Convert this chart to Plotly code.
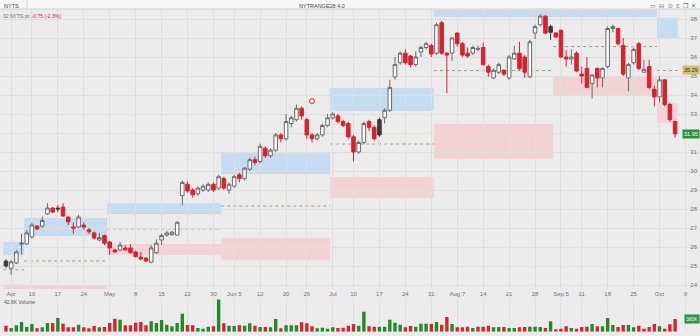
import pandas as pd
import plotly.graph_objects as go

# ---------------- data ----------------
holidays = ["2023-04-07", "2023-05-29", "2023-06-19", "2023-07-04", "2023-09-04"]
axis_days = [d.strftime("%Y-%m-%d") for d in pd.bdate_range("2023-03-31", "2023-10-13")
             if d.strftime("%Y-%m-%d") not in holidays]

opens = [25.26, 24.88, 25.16, 26.15, 26.16, 26.53, 27.1, 27.1, 27.74, 28.05,
         28.05, 28.1, 27.58, 27.05, 27.05, 27.15, 26.9, 26.74, 26.37, 26.6,
         26.26, 25.84, 25.84, 25.95, 25.95, 25.74, 25.47, 25.42, 25.2, 25.7,
         26.37, 26.63, 26.65, 26.63, 28.7, 29.3, 29.0, 28.8, 29.0, 29.0,
         29.3, 29.1, 29.6, 29.0, 29.2, 29.8, 29.6, 30.1, 30.6, 30.5,
         31.2, 30.8, 31.1, 31.9, 31.7, 32.5, 32.7, 33.3, 32.7, 31.9,
         31.7, 31.9, 32.4, 32.8, 32.9, 32.6, 32.5, 31.8, 31.0, 31.5,
         32.6, 32.3, 32.7, 32.8, 33.2, 34.95, 35.7, 36.2, 36.05, 35.6,
         36.26, 36.5, 36.6, 36.2, 37.8, 36.2, 36.2, 37.26, 36.7, 36.2,
         36.2, 36.4, 36.5, 35.5, 34.9, 35.2, 35.3, 34.9, 35.9, 36.2,
         36.0, 34.95, 37.26, 37.7, 38.15, 37.6, 37.26, 37.4, 36.0, 35.9,
         36.2, 35.1, 35.4, 34.6, 35.4, 34.9, 35.5, 37.5, 37.5, 36.6,
         34.9, 35.7, 36.7, 35.2, 35.5, 34.3, 33.9, 34.8, 33.5, 32.6]
highs = [25.35, 25.3, 25.84, 26.7, 26.9, 27.28, 27.15, 27.6, 28.3, 28.1,
         28.2, 28.3, 27.6, 27.3, 27.7, 27.3, 27.0, 26.8, 26.74, 26.65,
         26.3, 25.9, 26.26, 26.1, 26.15, 25.8, 25.74, 25.45, 26.1, 26.4,
         26.7, 26.85, 26.85, 27.35, 29.5, 29.45, 29.1, 29.2, 29.3, 29.4,
         29.4, 29.8, 29.7, 29.4, 29.8, 29.9, 30.2, 30.7, 30.75, 31.45,
         31.3, 31.2, 32.0, 32.0, 33.0, 32.9, 33.5, 33.4, 32.8, 32.0,
         32.0, 32.5, 33.0, 33.1, 33.0, 32.7, 32.6, 31.9, 31.6, 32.6,
         32.7, 32.4, 32.8, 33.3, 34.8, 36.0, 36.3, 36.4, 36.1, 36.3,
         36.6, 36.8, 36.7, 37.8, 37.9, 36.25, 37.05, 37.3, 36.8, 36.5,
         36.6, 36.6, 36.75, 35.6, 35.4, 35.7, 35.35, 36.1, 36.6, 36.8,
         36.1, 36.9, 37.7, 38.25, 38.2, 37.7, 37.3, 37.45, 36.37, 36.4,
         36.3, 35.5, 36.0, 35.1, 35.45, 35.45, 37.6, 37.7, 37.55, 37.0,
         35.7, 36.5, 36.8, 35.85, 35.85, 34.5, 35.0, 34.85, 33.6, 32.65]
lows = [24.9, 24.53, 25.1, 25.6, 26.1, 26.45, 26.9, 27.0, 27.7, 27.8,
        27.85, 27.6, 27.16, 26.7, 27.0, 26.9, 26.7, 26.4, 26.3, 26.1,
        25.58, 25.7, 25.8, 25.8, 25.65, 25.45, 25.3, 25.2, 25.15, 25.65,
        26.1, 26.55, 26.6, 26.6, 28.2, 28.85, 28.6, 28.7, 28.9, 28.9,
        28.9, 29.0, 29.0, 28.8, 29.1, 29.4, 29.5, 30.0, 30.3, 30.4,
        30.7, 30.7, 31.0, 31.5, 31.6, 32.3, 32.6, 32.7, 31.7, 31.5,
        31.6, 31.8, 32.3, 32.7, 32.5, 32.3, 31.7, 30.5, 30.9, 31.4,
        32.1, 31.6, 31.8, 32.5, 33.1, 34.8, 35.6, 35.6, 35.45, 35.5,
        36.0, 36.4, 36.0, 36.1, 36.1, 34.1, 35.8, 36.55, 36.0, 35.95,
        36.1, 36.3, 35.55, 34.95, 34.85, 35.1, 35.0, 34.8, 35.85, 35.3,
        34.9, 34.9, 36.95, 37.6, 37.2, 36.9, 37.0, 35.95, 35.5, 35.6,
        35.2, 34.6, 34.35, 33.8, 34.4, 34.4, 35.4, 37.3, 36.6, 35.0,
        34.2, 35.6, 35.3, 35.15, 34.3, 33.4, 33.6, 33.4, 32.6, 31.75]
closes = [25.0, 25.22, 25.74, 26.2, 26.74, 27.16, 26.95, 27.4, 28.05, 27.84,
          28.0, 27.63, 27.32, 27.0, 27.58, 27.05, 26.8, 26.47, 26.5, 26.2,
          25.95, 25.74, 26.1, 25.85, 25.7, 25.5, 25.37, 25.26, 25.95, 26.2,
          26.6, 26.74, 26.78, 27.3, 29.4, 28.95, 28.75, 29.1, 29.2, 29.3,
          29.0, 29.7, 29.1, 29.3, 29.7, 29.6, 30.15, 30.6, 30.45, 31.3,
          30.8, 31.1, 31.9, 31.7, 32.6, 32.8, 33.3, 32.9, 31.9, 31.7,
          31.9, 32.4, 32.8, 33.0, 32.6, 32.4, 31.8, 31.0, 31.5, 32.5,
          32.3, 31.7, 31.9, 33.2, 34.4, 35.6, 36.2, 35.7, 35.6, 36.0,
          36.5, 36.7, 36.16, 37.7, 36.2, 36.1, 37.0, 36.7, 36.1, 36.05,
          36.5, 36.45, 35.6, 35.2, 35.3, 35.6, 35.1, 36.0, 36.2, 35.4,
          35.2, 36.8, 37.6, 38.15, 37.26, 37.3, 37.05, 36.0, 35.9, 36.0,
          35.26, 35.0, 34.4, 35.05, 34.9, 35.4, 37.5, 37.6, 36.7, 35.1,
          35.6, 36.4, 35.4, 35.35, 34.4, 33.9, 34.8, 33.5, 32.7, 31.95]
volumes_k = [180, 110, 190, 290, 140, 230, 100, 130, 260, 260,
             410, 240, 130, 130, 210, 130, 100, 170, 130, 140,
             260, 390, 360, 190, 190, 270, 290, 190, 310, 260,
             350, 210, 160, 260, 540, 200, 190, 110, 90, 150,
             160, 960, 250, 180, 170, 190, 180, 250, 180, 140,
             140, 130, 380, 100, 190, 190, 190, 280, 250, 160,
             100, 120, 90, 130, 110, 120, 180, 230, 180, 600,
             160, 150, 150, 150, 360, 270, 210, 130, 170, 150,
             240, 240, 230, 290, 210, 440, 230, 130, 130, 150,
             110, 150, 150, 180, 130, 140, 140, 110, 110, 130,
             140, 150, 150, 140, 110, 310, 70, 90, 160, 110,
             90, 140, 150, 230, 160, 160, 410, 200, 140, 200,
             200, 130, 180, 90, 140, 230, 160, 90, 220, 380]

# monthly range boxes
box_start = ["2023-03-31", "2023-04-06", "2023-05-01", "2023-06-01", "2023-07-03", "2023-08-01", "2023-09-01", "2023-10-02"]
box_end = ["2023-04-05", "2023-04-28", "2023-05-31", "2023-06-30", "2023-07-31", "2023-08-31", "2023-09-29", "2023-10-05"]
upper_hi = [26.26, 27.53, 28.30, 30.95, 34.37, 39.94, 39.10, 38.05]
upper_lo = [25.58, 26.58, 27.74, 29.84, 33.16, 38.10, 38.10, 37.00]
lower_hi = [24.02, 23.95, 26.16, 26.47, 29.68, 32.47, 35.00, 33.58]
lower_lo = [23.34, 23.00, 25.58, 25.30, 28.58, 30.63, 34.00, 32.53]

event_dates = ["2023-06-27"]
event_prices = [33.68]

price_ticks = list(range(24, 39))
tick_dates = ["2023-04-03", "2023-04-10", "2023-04-17", "2023-04-24", "2023-05-01", "2023-05-08",
              "2023-05-15", "2023-05-22", "2023-05-30", "2023-06-05", "2023-06-12", "2023-06-20",
              "2023-06-26", "2023-07-03", "2023-07-10", "2023-07-17", "2023-07-24", "2023-07-31",
              "2023-08-07", "2023-08-14", "2023-08-21", "2023-08-28", "2023-09-05", "2023-09-11",
              "2023-09-18", "2023-09-25", "2023-10-02", "2023-10-09"]
tick_text = ["Apr", "10", "17", "24", "May", "8", "15", "22", "30", "Jun 5", "12", "20", "26",
             "Jul", "10", "17", "24", "31", "Aug 7", "14", "21", "28", "Sep 5", "11", "18", "25",
             "Oct", "9"]

header_symbol = "NYTS"
header_study = "NYTRANGE28 4.0"
volume_title = "42.6K Volume"

# ---------------- derived ----------------
n = len(closes)
dates = axis_days[:n]
pos = {d: i for i, d in enumerate(axis_days)}
xs = list(range(n))

dark = [closes[i] < opens[i] and (i == 0 or closes[i] >= closes[i - 1]) for i in range(n)]
main_idx = [i for i in range(n) if not dark[i]]
dark_idx = [i for i in range(n) if dark[i]]

RED = "#d6232d"
GREEN = "#1f8a2a"
vol_colors = []
for i in range(n):
    up = closes[i] >= closes[i - 1] if i > 0 else closes[i] >= opens[i]
    vol_colors.append(GREEN if up else RED)

BG = "#ebebeb"
GRID = "#dedede"
H = 336.0
W = 700.0

last_mid = (upper_lo[-1] + lower_hi[-1]) / 2
# price labels hidden behind the last-price flag (as the platform does)
price_ticktext = ["" if abs(t - closes[-1]) < 0.35 else str(t) for t in price_ticks]

fig = go.Figure()

fig.add_trace(go.Candlestick(
    x=[xs[i] for i in main_idx],
    open=[opens[i] for i in main_idx], high=[highs[i] for i in main_idx],
    low=[lows[i] for i in main_idx], close=[closes[i] for i in main_idx],
    text=[dates[i] for i in main_idx],
    increasing=dict(line=dict(color="#6a6a6a", width=1), fillcolor="#fbfbfb"),
    decreasing=dict(line=dict(color=RED, width=1), fillcolor=RED),
    xaxis="x", yaxis="y", showlegend=False))
fig.add_trace(go.Candlestick(
    x=[xs[i] for i in dark_idx],
    open=[opens[i] for i in dark_idx], high=[highs[i] for i in dark_idx],
    low=[lows[i] for i in dark_idx], close=[closes[i] for i in dark_idx],
    text=[dates[i] for i in dark_idx],
    increasing=dict(line=dict(color="#3a3a3a", width=1), fillcolor="#3a3a3a"),
    decreasing=dict(line=dict(color="#3a3a3a", width=1), fillcolor="#3a3a3a"),
    xaxis="x", yaxis="y", showlegend=False))

fig.add_trace(go.Scatter(
    x=[pos[d] for d in event_dates], y=event_prices, mode="markers",
    marker=dict(size=5, color="rgba(0,0,0,0)", line=dict(color="#d9603b", width=1.2)),
    xaxis="x", yaxis="y", showlegend=False))

fig.add_trace(go.Bar(x=xs, y=volumes_k, marker=dict(color=vol_colors, line=dict(width=0)),
                     xaxis="x2", yaxis="y2", showlegend=False))

shapes = []
for s, e, uh, ul, lh, ll in zip(box_start, box_end, upper_hi, upper_lo, lower_hi, lower_lo):
    x0 = pos[s] - 0.5
    x1 = pos[e] + 0.5
    shapes.append(dict(type="rect", xref="x", yref="y", x0=x0, x1=x1, y0=ul, y1=uh,
                       fillcolor="#c5dbf1", line=dict(width=0), layer="below"))
    shapes.append(dict(type="rect", xref="x", yref="y", x0=x0, x1=x1, y0=ll, y1=lh,
                       fillcolor="#f3d2d6", line=dict(width=0), layer="below"))
    mid = (ul + lh) / 2
    shapes.append(dict(type="line", xref="x", yref="y", x0=x0, x1=x1, y0=mid, y1=mid,
                       line=dict(color="#a39c80", width=1, dash="dot"), layer="below"))

# header band
hdr = 1 - 9 / H
shapes.append(dict(type="rect", xref="paper", yref="paper", x0=0, x1=1, y0=hdr, y1=1,
                   fillcolor="#f7f7f7", line=dict(width=0)))
shapes.append(dict(type="line", xref="paper", yref="paper", x0=0, x1=1, y0=hdr, y1=hdr,
                   line=dict(color="#cfcfcf", width=1)))
shapes.append(dict(type="line", xref="paper", yref="paper", x0=27 / W, x1=27 / W, y0=hdr, y1=1,
                   line=dict(color="#cfcfcf", width=1)))

chg = closes[-1] - closes[-2]
annotations = [
    dict(xref="paper", yref="paper", x=2 / W, y=1 - 1 / H, xanchor="left", yanchor="top",
         text=header_symbol, showarrow=False, font=dict(size=5.5, color="#444")),
    dict(xref="paper", yref="paper", x=322 / W, y=1 - 1 / H, xanchor="center", yanchor="top",
         text=header_study, showarrow=False, font=dict(size=5.5, color="#444")),
    dict(xref="paper", yref="paper", x=1 - 2 / W, y=1 - 0.5 / H, xanchor="right", yanchor="top",
         text="▭  ⊟  ⊙  ≡  ❐  ✕", showarrow=False, font=dict(size=6, color="#666")),
    dict(xref="paper", yref="paper", x=1 / W, y=1 - 10.5 / H, xanchor="left", yanchor="top",
         text=("<span style='color:#3a8c3a'>%.0f %s pt: </span>"
               "<span style='color:#d6232d'>%.2f (%.1f%%)</span>") %
              (closes[-1], header_symbol, chg, 100 * chg / closes[-2]),
         showarrow=False, font=dict(size=5)),
    dict(xref="paper", yref="y", x=1, y=closes[-1], xanchor="right", yanchor="middle",
         text="%.2f" % closes[-1], showarrow=False, bgcolor="#2f8f3a",
         font=dict(size=5.5, color="white"), borderpad=1),
    dict(xref="paper", yref="y", x=1, y=last_mid, xanchor="right", yanchor="middle",
         text="%.2f" % last_mid, showarrow=False, bgcolor="#d2c170",
         font=dict(size=5.5, color="#333"), borderpad=1),
    dict(xref="paper", yref="paper", x=2 / W, y=1 - 297 / H, xanchor="left", yanchor="top",
         text=volume_title, showarrow=False, font=dict(size=5, color="#555")),
    dict(xref="paper", yref="y2", x=1, y=volumes_k[-1], xanchor="right", yanchor="middle",
         text="%dK" % volumes_k[-1], showarrow=False, bgcolor="#2f8f3a",
         font=dict(size=5, color="white"), borderpad=1),
]

x_range = [-1.15, 133.8]
fig.update_layout(
    width=700, height=336, margin=dict(l=0, r=0, t=0, b=0),
    paper_bgcolor=BG, plot_bgcolor=BG, showlegend=False,
    boxgap=0.2, boxgroupgap=0.15, bargap=0.35,
    font=dict(family="Liberation Sans, Arial, sans-serif", size=6, color="#666"),
    xaxis=dict(domain=[0, 1], range=x_range, anchor="y", tickmode="array",
               tickvals=[pos[d] for d in tick_dates], ticktext=tick_text,
               showgrid=True, gridcolor=GRID, gridwidth=1, zeroline=False, showline=False,
               ticks="", tickfont=dict(size=6, color="#707070"), rangeslider=dict(visible=False)),
    yaxis=dict(domain=[1 - 289 / H, 1 - 10 / H], range=[38 - (289 - 19) / 19, 38 - (10 - 19) / 19],
               side="right", ticklabelposition="inside", tickmode="array", tickvals=price_ticks,
               ticktext=price_ticktext,
               showgrid=True, gridcolor=GRID, gridwidth=1, zeroline=False, showline=False,
               ticks="", tickfont=dict(size=6, color="#707070")),
    xaxis2=dict(domain=[0, 1], range=x_range, anchor="y2", matches="x", tickmode="array",
                tickvals=[pos[d] for d in tick_dates], showticklabels=False,
                showgrid=True, gridcolor=GRID, zeroline=False, showline=False, ticks=""),
    yaxis2=dict(domain=[1 - 331.7 / H, 1 - 298 / H], range=[0, max(volumes_k) * 1.05],
                showticklabels=False, showgrid=False, zeroline=False, showline=False, ticks=""),
    shapes=shapes, annotations=annotations,
)

fig.write_html("out.html")
